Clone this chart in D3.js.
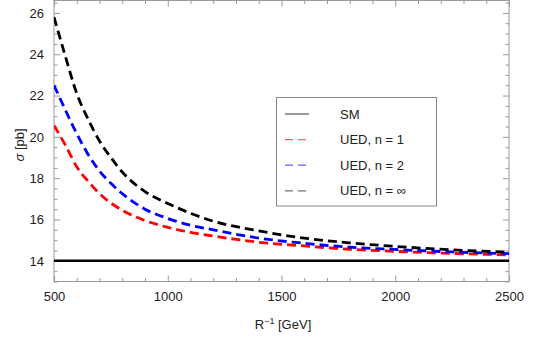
<!DOCTYPE html>
<html lang="en">
<head>
<meta charset="utf-8">
<script src="https://d3js.org/d3.v7.min.js"></script>
<style>
  body { margin: 0; background: #fff; }
  text { font-family: "Liberation Sans", Arial, sans-serif; }
</style>
</head>
<body>
<script>
  var width = 545, height = 341;

  // values
  var rInv = [500, 550, 600, 650, 700, 750, 800, 900, 1000, 1100, 1200, 1400, 1600, 1800, 2000, 2250, 2500];
  var smValue = 14.0;
  var ued1   = [20.55, 19.6, 18.55, 17.85, 17.25, 16.8, 16.45, 15.95, 15.62, 15.38, 15.2, 14.9, 14.72, 14.56, 14.46, 14.36, 14.29];
  var ued2   = [22.5, 21.3, 20.15, 19.15, 18.35, 17.75, 17.25, 16.5, 16.05, 15.72, 15.5, 15.1, 14.85, 14.66, 14.55, 14.43, 14.35];
  var uedInf = [25.8, 23.9, 22.1, 20.85, 19.8, 19.0, 18.3, 17.35, 16.78, 16.3, 15.92, 15.45, 15.1, 14.87, 14.7, 14.53, 14.42];

  var xTicks = [500, 1000, 1500, 2000, 2500];
  var yTicks = [14, 16, 18, 20, 22, 24, 26];
  var legendLabels = ["SM", "UED, n = 1", "UED, n = 2", "UED, n = \u221e"];

  var plotLeft = 54, plotRight = 509, plotTop = 0.5, plotBottom = 281.5;

  var svg = d3.select('body').append('svg').attr('width', width).attr('height', height);

  var x = d3.scaleLinear().domain([500, 2500]).range([plotLeft, plotRight]);
  var y = d3.scaleLinear().domain([13, 26.6]).range([plotBottom, plotTop]);

  var xMinor = d3.range(500, 2501, 100).filter(function(v) { return v % 500 !== 0; });
  var yMinor = d3.range(13, 26.6, 0.5).filter(function(v) { return v % 2 !== 0; });

  var frameColor = '#999';

  function styleAxis(g, hideText) {
    g.select('.domain').remove();
    g.selectAll('line').attr('stroke', frameColor);
    g.selectAll('text').attr('font-size', 13).attr('fill', '#222');
    if (hideText) g.selectAll('text').remove();
  }

  // bottom axis with labels
  svg.append('g').attr('transform', 'translate(0,' + plotBottom + ')')
    .call(d3.axisBottom(x).tickValues(xTicks).tickSize(-6).tickPadding(10).tickFormat(d3.format('d')))
    .call(styleAxis, false);
  svg.append('g').attr('transform', 'translate(0,' + plotBottom + ')')
    .call(d3.axisBottom(x).tickValues(xMinor).tickSize(-3.5).tickFormat(''))
    .call(styleAxis, true);
  // top ticks
  svg.append('g').attr('transform', 'translate(0,' + plotTop + ')')
    .call(d3.axisTop(x).tickValues(xTicks).tickSize(-6).tickFormat(''))
    .call(styleAxis, true);
  svg.append('g').attr('transform', 'translate(0,' + plotTop + ')')
    .call(d3.axisTop(x).tickValues(xMinor).tickSize(-3.5).tickFormat(''))
    .call(styleAxis, true);
  // left axis with labels
  svg.append('g').attr('transform', 'translate(' + plotLeft + ',0)')
    .call(d3.axisLeft(y).tickValues(yTicks).tickSize(-6).tickPadding(10))
    .call(styleAxis, false);
  svg.append('g').attr('transform', 'translate(' + plotLeft + ',0)')
    .call(d3.axisLeft(y).tickValues(yMinor).tickSize(-3.5).tickFormat(''))
    .call(styleAxis, true);
  // right ticks
  svg.append('g').attr('transform', 'translate(' + plotRight + ',0)')
    .call(d3.axisRight(y).tickValues(yTicks).tickSize(-6).tickFormat(''))
    .call(styleAxis, true);
  svg.append('g').attr('transform', 'translate(' + plotRight + ',0)')
    .call(d3.axisRight(y).tickValues(yMinor).tickSize(-3.5).tickFormat(''))
    .call(styleAxis, true);

  // frame
  svg.append('rect')
    .attr('x', plotLeft).attr('y', plotTop)
    .attr('width', plotRight - plotLeft).attr('height', plotBottom - plotTop)
    .attr('fill', 'none').attr('stroke', frameColor).attr('stroke-width', 1);

  svg.append('clipPath').attr('id', 'clip')
    .append('rect').attr('x', plotLeft).attr('y', plotTop)
    .attr('width', plotRight - plotLeft).attr('height', plotBottom - plotTop);

  var line = d3.line()
    .x(function(d) { return x(d[0]); })
    .y(function(d) { return y(d[1]); })
    .curve(d3.curveMonotoneX);

  var plot = svg.append('g').attr('clip-path', 'url(#clip)');

  // SM line
  plot.append('path')
    .datum([[500, smValue], [2500, smValue]])
    .attr('d', line).attr('fill', 'none').attr('stroke', '#000').attr('stroke-width', 2.5);

  var series = [
    { vals: ued1, color: '#ff0000' },
    { vals: ued2, color: '#0000ff' },
    { vals: uedInf, color: '#000000' }
  ];
  series.forEach(function(s) {
    plot.append('path')
      .datum(rInv.map(function(r, i) { return [r, s.vals[i]]; }))
      .attr('d', line)
      .attr('fill', 'none')
      .attr('stroke', s.color)
      .attr('stroke-width', 2.8)
      .attr('stroke-dasharray', '9,5');
  });

  // axis titles
  var xt = svg.append('text')
    .attr('x', 283).attr('y', 329).attr('text-anchor', 'middle').attr('font-size', 13).attr('fill', '#222');
  xt.append('tspan').text('R');
  xt.append('tspan').attr('dy', -5).attr('font-size', 9).text('\u22121');
  xt.append('tspan').attr('dy', 5).text(' [GeV]');

  var yt = svg.append('text')
    .attr('transform', 'translate(24,145) rotate(-90)')
    .attr('text-anchor', 'middle').attr('font-size', 13).attr('fill', '#222');
  yt.append('tspan').attr('font-style', 'italic').text('\u03c3');
  yt.append('tspan').text(' [pb]');

  // legend
  var legend = svg.append('g');
  legend.append('rect')
    .attr('x', 276.5).attr('y', 97.5).attr('width', 160).attr('height', 108.5)
    .attr('fill', '#fff').attr('stroke', '#888').attr('stroke-width', 1);
  var legendColors = ['#555', '#ff6060', '#6060ff', '#777'];
  var legendDash = [null, '8,5', '8,5', '8,5'];
  legendLabels.forEach(function(lab, i) {
    var ly = 114 + i * 25.6;
    legend.append('line')
      .attr('x1', 285).attr('x2', 309).attr('y1', ly).attr('y2', ly)
      .attr('stroke', legendColors[i]).attr('stroke-width', 1.2)
      .attr('stroke-dasharray', legendDash[i]);
    legend.append('text')
      .attr('x', 340).attr('y', ly + 4.5).attr('font-size', 13).attr('fill', '#222').text(lab);
  });
</script>
</body>
</html>
